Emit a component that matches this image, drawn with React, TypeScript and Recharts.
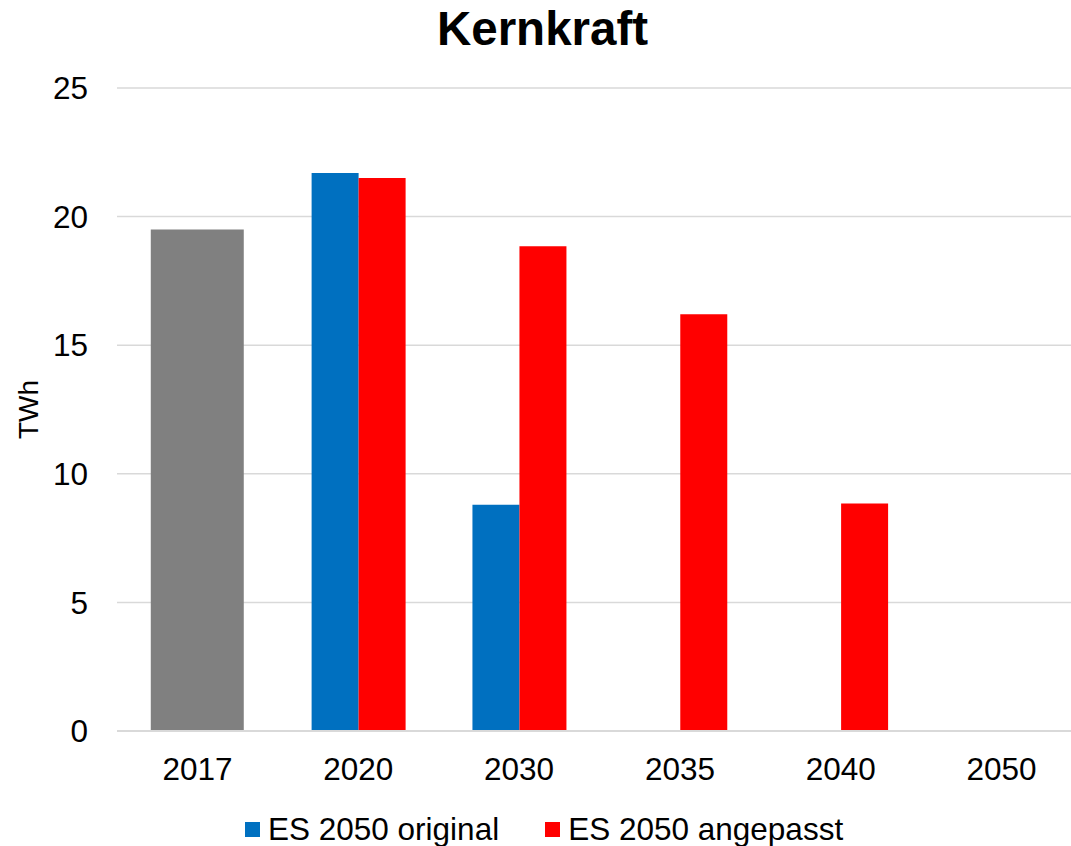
import React from "react";
import {
  BarChart,
  Bar,
  XAxis,
  YAxis,
  CartesianGrid,
  Label,
} from "recharts";

const years = ["2017", "2020", "2030", "2035", "2040", "2050"];
const historic = [19.5, null, null, null, null, null];
const esOriginal = [null, 21.7, 8.8, null, null, null];
const esAngepasst = [null, 21.5, 18.85, 16.2, 8.85, null];
const yTicks = [0, 5, 10, 15, 20, 25];

const data = years.map((y, i) => ({
  year: y,
  historic: historic[i],
  original: esOriginal[i],
  angepasst: esAngepasst[i],
}));

const legendItems = [
  { label: "ES 2050 original", color: "#0070C0" },
  { label: "ES 2050 angepasst", color: "#FF0000" },
];

const FONT = '"Liberation Sans", Arial, sans-serif';

const App: React.FC = () => {
  return (
    <div
      style={{
        position: "absolute",
        left: 0,
        top: 0,
        width: 1071,
        height: 846,
        overflow: "hidden",
        background: "#fff",
        fontFamily: FONT,
      }}
    >
      <div
        style={{
          position: "absolute",
          top: 5,
          left: 0,
          width: 1071,
          paddingLeft: 14,
          boxSizing: "border-box",
          textAlign: "center",
          fontSize: 47.5,
          lineHeight: "47px",
          fontWeight: 700,
          color: "#000",
        }}
      >
        Kernkraft
      </div>
      <BarChart
        width={1071}
        height={846}
        data={data}
        margin={{ top: 88, right: -11, bottom: 85, left: 0 }}
        barCategoryGap="21%"
        barGap={0}
      >
        <CartesianGrid vertical={false} stroke="#d9d9d9" strokeWidth={1.5} />
        <XAxis
          dataKey="year"
          height={30}
          axisLine={{ stroke: "#d9d9d9", strokeWidth: 2 }}
          tickLine={false}
          tickMargin={21}
          tick={{ fill: "#000", fontSize: 31.5, fontFamily: FONT }}
        />
        <XAxis xAxisId="g" dataKey="year" hide height={0} />
        <YAxis
          width={117}
          domain={[0, 25]}
          ticks={yTicks}
          axisLine={false}
          tickLine={false}
          tickMargin={23}
          tick={{ fill: "#000", fontSize: 31.5, fontFamily: FONT }}
        >
          <Label
            value="TWh"
            angle={-90}
            position="insideLeft"
            offset={28}
            style={{ fill: "#000", fontSize: 28, fontFamily: FONT, textAnchor: "middle" }}
          />
        </YAxis>
        <Bar xAxisId="g" dataKey="historic" fill="#808080" isAnimationActive={false} />
        <Bar dataKey="original" fill="#0070C0" isAnimationActive={false} />
        <Bar dataKey="angepasst" fill="#FF0000" isAnimationActive={false} />
      </BarChart>
      <div
        style={{
          position: "absolute",
          left: 245,
          top: 811,
          display: "flex",
          alignItems: "center",
        }}
      >
        {legendItems.map((it, i) => (
          <div
            key={it.label}
            style={{ display: "flex", alignItems: "center", marginRight: i === 0 ? 46 : 0 }}
          >
            <div style={{ width: 15, height: 15, background: it.color, marginRight: 8 }} />
            <span style={{ fontSize: 31.5, color: "#000", lineHeight: "36px" }}>{it.label}</span>
          </div>
        ))}
      </div>
    </div>
  );
};

export default App;
